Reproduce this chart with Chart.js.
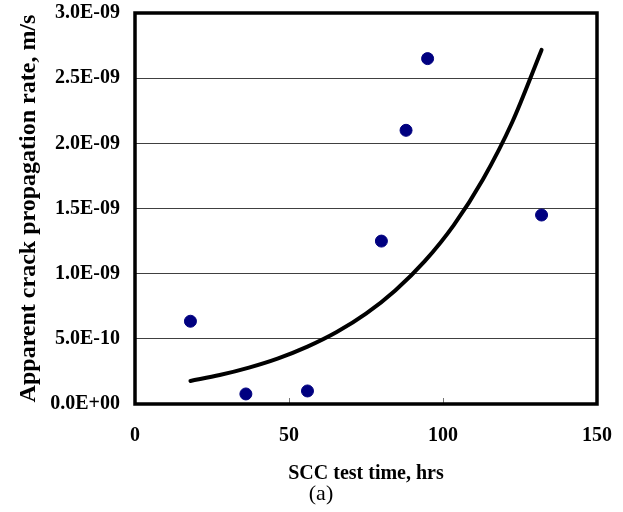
<!DOCTYPE html>
<html>
<head>
<meta charset="utf-8">
<script src="https://cdn.jsdelivr.net/npm/chart.js@4.4.0/dist/chart.umd.min.js"></script>
<style>
html, body { margin: 0; padding: 0; background: #fff; }
#wrap { position: relative; width: 623px; height: 512px; }
</style>
</head>
<body>
<div id="wrap"><canvas id="sccChart" width="623" height="512"></canvas></div>
<script>
// Measured points (SCC test time in hrs, crack rate in m/s)
const testTime = [18, 36, 56, 80, 88, 95, 132];
const crackRate = [6.35e-10, 7.7e-11, 1.0e-10, 1.25e-9, 2.1e-9, 2.65e-9, 1.45e-9];

// Trend curve at evenly spaced times
const trendTime = [18, 27.5, 37, 46.5, 56, 65.5, 75, 84.5, 94, 103.5, 113, 122.5, 132];
const trendRate = [1.77e-10, 2.22e-10, 2.79e-10, 3.5e-10, 4.4e-10, 5.52e-10, 6.93e-10, 8.71e-10, 1.094e-9, 1.373e-9, 1.725e-9, 2.164e-9, 2.717e-9];

// Axis ticks
const xTickValues = [0, 50, 100, 150];
const xTickLabels = ['0', '50', '100', '150'];
const yTickValues = [0, 5e-10, 1e-9, 1.5e-9, 2e-9, 2.5e-9, 3e-9];
const yTickLabels = ['0.0E+00', '5.0E-10', '1.0E-09', '1.5E-09', '2.0E-09', '2.5E-09', '3.0E-09'];

const serif = '"Liberation Serif", "Times New Roman", serif';

// frame round the plot, small inward ticks on x, and the (a) caption
const framePlugin = {
    id: 'frame',
    afterDatasetsDraw(chart) {
        const { ctx, chartArea: a, scales: { x } } = chart;
        ctx.save();
        ctx.strokeStyle = '#777';
        ctx.lineWidth = 1;
        x.ticks.forEach(t => {
            const px = Math.round(x.getPixelForValue(t.value)) + 0.5;
            ctx.beginPath();
            ctx.moveTo(px, a.bottom);
            ctx.lineTo(px, a.bottom - 6);
            ctx.stroke();
        });
        ctx.strokeStyle = '#000';
        ctx.lineWidth = 3.5;
        ctx.strokeRect(a.left, a.top, a.right - a.left, a.bottom - a.top);

        ctx.fillStyle = '#000';
        ctx.font = '22px ' + serif;
        ctx.textAlign = 'center';
        ctx.textBaseline = 'middle';
        ctx.fillText('(a)', 321, 494);
        ctx.restore();
    }
};

const ctx = document.getElementById('sccChart').getContext('2d');
const sccChart = new Chart(ctx, {
    type: 'scatter',
    data: {
        datasets: [
            {
                label: 'Measured',
                data: testTime.map((t, i) => ({ x: t, y: crackRate[i] })),
                backgroundColor: '#000080',
                borderColor: '#000080',
                pointRadius: 6,
                pointHoverRadius: 6,
                order: 1
            },
            {
                label: 'Trend',
                data: trendTime.map((t, i) => ({ x: t, y: trendRate[i] })),
                showLine: true,
                borderColor: '#000',
                borderWidth: 4,
                borderCapStyle: 'round',
                pointRadius: 0,
                cubicInterpolationMode: 'monotone',
                fill: false,
                order: 2
            }
        ]
    },
    options: {
        responsive: false,
        animation: false,
        layout: { padding: { left: 0, top: 13, right: 26, bottom: 0 } },
        plugins: {
            legend: { display: false },
            tooltip: { enabled: false }
        },
        scales: {
            x: {
                type: 'linear',
                min: 0,
                max: 150,
                afterFit: s => { s.height = 108; s.paddingLeft = 0; s.paddingRight = 0; },
                afterBuildTicks: s => { s.ticks = xTickValues.map(v => ({ value: v })); },
                grid: { display: false, drawTicks: false },
                border: { display: false },
                ticks: {
                    padding: 20,
                    color: '#000',
                    font: { family: serif, size: 20, weight: 'bold' },
                    callback: (v, i) => xTickLabels[i]
                },
                title: {
                    display: true,
                    text: 'SCC test time, hrs',
                    color: '#000',
                    font: { family: serif, size: 20, weight: 'bold' },
                    padding: { top: 0, bottom: 26 }
                }
            },
            y: {
                type: 'linear',
                min: 0,
                max: 3e-9,
                afterFit: s => { s.width = 135; s.paddingTop = 0; s.paddingBottom = 0; },
                afterBuildTicks: s => { s.ticks = yTickValues.map(v => ({ value: v })); },
                grid: { color: '#404040', lineWidth: 1, drawTicks: false },
                border: { display: false },
                ticks: {
                    padding: 15,
                    color: '#000',
                    font: { family: serif, size: 20, weight: 'bold' },
                    callback: (v, i) => yTickLabels[i]
                },
                title: {
                    display: true,
                    text: 'Apparent crack propagation rate, m/s',
                    color: '#000',
                    font: { family: serif, size: 24, weight: 'bold' },
                    padding: { top: 14, bottom: 0 }
                }
            }
        }
    },
    plugins: [framePlugin]
});
</script>
</body>
</html>
